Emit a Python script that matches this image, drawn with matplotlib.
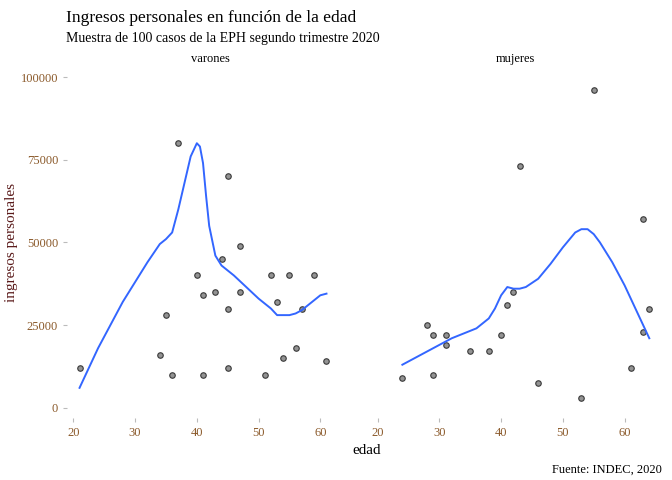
import matplotlib.pyplot as plt

plt.rcParams['font.family'] = ['Liberation Serif', 'DejaVu Serif']

# puntos por panel
edadV = [21, 34, 35, 36, 37, 40, 41, 41, 43, 44, 45, 45, 45, 47, 47, 51, 52, 53, 54, 55, 56, 57, 59, 61]
ingV = [12000, 16000, 28000, 10000, 80000, 40000, 34000, 10000, 35000, 45000, 30000, 70000, 12000, 35000, 49000,
        10000, 40000, 32000, 15000, 40000, 18000, 30000, 40000, 14000]
edadM = [24, 28, 29, 29, 31, 31, 35, 38, 40, 41, 42, 43, 46, 53, 55, 61, 63, 63, 64]
ingM = [9000, 25000, 22000, 10000, 22000, 19000, 17000, 17000, 22000, 31000, 35000, 73000, 7500, 3000, 96000,
        12000, 57000, 23000, 30000]

# curvas suavizadas
sEdadV = [21, 22, 24, 26, 28, 30, 32, 34, 35, 36, 37, 38, 39, 40, 40.5, 41, 41.5, 42, 43, 44, 46, 48, 50, 52, 53, 55, 56, 57, 58, 59, 60, 61]
sIngV = [6000, 10000, 18000, 25000, 32000, 38000, 44000, 49500, 51000, 53000, 60000, 68000, 76000, 80000, 79000,
         74000, 64000, 55000, 46000, 43000, 40000, 36500, 33000, 30000, 28000, 28000, 28500, 29500, 31000, 32500, 34000, 34500]
sEdadM = [24, 26, 28, 30, 32, 34, 36, 38, 39, 40, 41, 42, 43, 44, 46, 48, 50, 52, 53, 54, 55, 56, 58, 60, 62, 63, 64]
sIngM = [13000, 15000, 17000, 19000, 21000, 22500, 24000, 27000, 30000, 34000, 36500, 36000, 36000, 36500, 39000,
         43500, 48500, 53000, 54000, 54000, 52500, 50000, 44000, 37000, 29000, 25000, 21000]

tickCol = '#8b5a2b'
fig, axes = plt.subplots(1, 2, figsize=(6.72, 4.8), dpi=100, sharey=True)
fig.subplots_adjust(left=0.1, right=0.98, top=0.86, bottom=0.13, wspace=0.06)

for ax, x, y, sx, sy, name in [(axes[0], edadV, ingV, sEdadV, sIngV, 'varones'),
                                (axes[1], edadM, ingM, sEdadM, sIngM, 'mujeres')]:
    ax.scatter(x, y, s=16, color='#808080', edgecolor='#222222', linewidth=0.8, alpha=0.85, zorder=2)
    ax.plot(sx, sy, color='#3366ff', linewidth=1.4, zorder=3)
    ax.set_xlim(19, 65.5)
    ax.set_ylim(-3000, 103000)
    ax.set_xticks([20, 30, 40, 50, 60])
    ax.set_yticks([0, 25000, 50000, 75000, 100000])
    for s in ax.spines.values():
        s.set_visible(False)
    ax.tick_params(length=3, color='#bbbbbb', labelcolor=tickCol, labelsize=9)
    ax.set_title(name, fontsize=9, pad=4)

axes[1].tick_params(axis='y', length=0)
axes[0].set_ylabel('ingresos personales', fontsize=11, color='#5a1a1a', labelpad=2)
fig.text(0.545, 0.055, 'edad', ha='center', fontsize=11)
fig.text(0.098, 0.955, 'Ingresos personales en función de la edad', fontsize=12.5)
fig.text(0.098, 0.912, 'Muestra de 100 casos de la EPH segundo trimestre 2020', fontsize=10)
fig.text(0.985, 0.015, 'Fuente: INDEC, 2020', ha='right', fontsize=9)

fig.savefig('out.png', dpi=100)
